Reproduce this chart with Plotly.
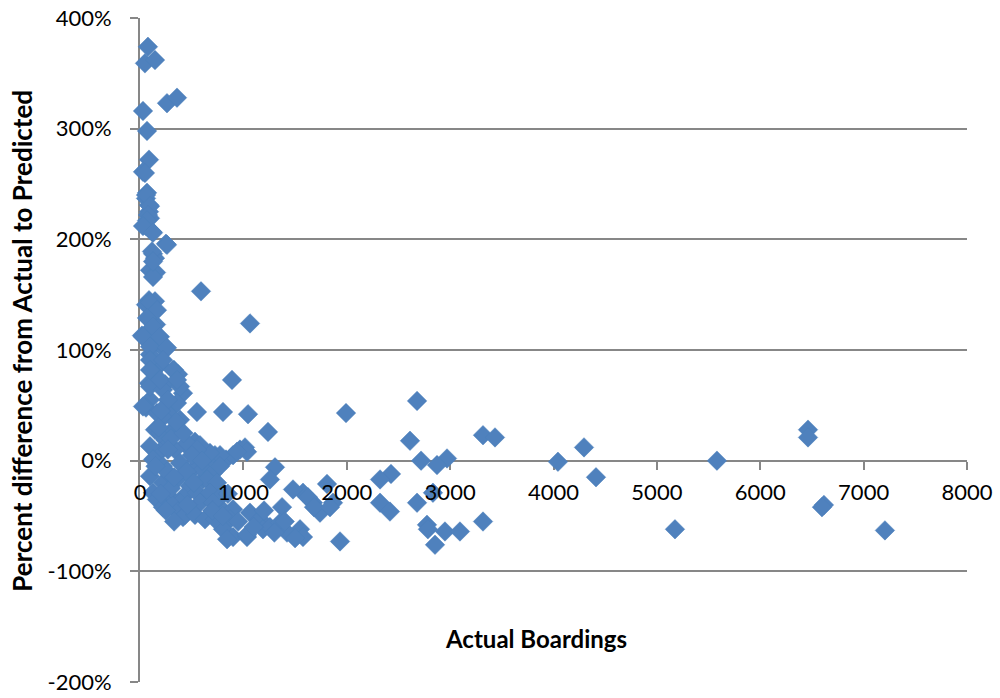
import plotly.graph_objects as go

# Actual boardings (x) and percent difference from actual to predicted (y, in %)
boardings = [
    77, 48, 145, 261, 358, 29, 68, 87, 29, 68, 58, 87, 87, 97, 58, 116, 251, 126, 145, 97,
    155, 590, 87, 145, 58, 97, 155, 1064, 19, 77, 164, 242, 97, 193, 126, 329, 368, 87, 890, 242,
    97, 416, 58, 2680, 1993, 1045, 803, 290, 222, 387, 145, 1238, 6462, 6462, 3318, 3434, 2612, 4295, 967, 1016,
    242, 532, 445, 338, 580, 193, 725, 832, 658, 2970, 2719, 2873, 4043, 5581, 4411, 1306, 1257, 2428, 2322, 1809,
    2834, 2680, 2322, 2418, 2776, 2785, 2950, 3095, 2854, 3318, 1935, 5175, 6616, 6597, 7206, 1577, 1673, 1741, 1867, 1548,
    1577, 1480, 1625, 1683,
    1035, 900, 774, 677, 580, 609, 677, 774, 900, 870, 803, 900, 1035, 1064, 1161, 1190, 1257, 1374, 1354, 1422,
    1838, 842, 1035, 416,
    97, 29, 222, 387, 164, 358, 551, 193, 319, 455, 551, 938, 97, 126, 222, 387, 513, 609, 706, 774,
    97, 222, 358, 484, 648, 745, 126, 290, 416, 551, 677, 774, 164, 222, 387, 580, 706, 309, 368, 435,
    532, 629, 725,
    126, 97, 164, 68, 126, 29, 193, 97, 261, 97, 222, 97, 319, 193, 358,
    48, 58, 97, 77, 68, 29, 126, 261, 116, 126,
    300, 260, 300, 450, 500, 420, 350, 270, 200, 180, 150, 250, 330, 460, 520, 600, 700, 800, 850, 950,
    1100, 1200, 1300, 1500, 1400, 200, 270, 330,
]
pct_diff = [
    374, 359, 362, 323, 328, 316, 298, 272, 261, 242, 237, 231, 225, 219, 212, 207, 196, 187, 183, 172,
    170, 153, 145, 144, 141, 127, 123, 124, 113, 116, 107, 100, 96, 87, 80, 82, 78, 70, 73, 69,
    55, 61, 48, 54, 43, 42, 44, 46, 39, 37, 28, 26, 28, 21, 23, 21, 18, 12, 10, 12,
    19, 17, 14, 10, 8, 8, 5, 1, 2, 2, 0, -4, -1, 0, -15, -6, -17, -12, -17, -21,
    -29, -38, -38, -46, -58, -62, -64, -64, -76, -55, -73, -62, -40, -42, -63, -29, -38, -47, -38, -62,
    -69, -26, -33, -42,
    8, 5, 5, 7, 14, -17, -33, -42, -44, -53, -62, -69, -69, -47, -53, -62, -60, -42, -56, -65,
    -42, -71, -67, -51,
    67, 49, 64, 67, 43, 52, 44, 25, 28, 16, 10, 8, 13, 1, -5, -2, -8, -8, -11, -5,
    -14, -20, -17, -23, -17, -20, -29, -33, -33, -29, -29, -33, -35, -42, -38, -38, -38, -40, -46, -49,
    -49, -53, -53,
    166, 143, 136, 129, 121, 112, 112, 103, 102, 91, 91, 82, 82, 73, 73,
    260, 240, 230, 222, 217, 212, 206, 195, 189, 180,
    20, -10, -25, -10, 5, 25, 35, 55, 45, 30, -5, -45, -55, -40, -20, 0, -45, -50, -30, -55,
    -60, -45, -65, -70, -55, -30, 10, -15,
]

x_ticks = [0, 1000, 2000, 3000, 4000, 5000, 6000, 7000, 8000]
y_ticks = [-200, -100, 0, 100, 200, 300, 400]

grid = "#878787"
font_family = "Lato, 'Liberation Sans', sans-serif"

fig = go.Figure()
fig.add_trace(go.Scatter(
    x=boardings, y=pct_diff, mode="markers",
    marker=dict(symbol="diamond", size=15, color="#4F81BD",
                line=dict(color="#4A7EBB", width=0.5)),
    showlegend=False, cliponaxis=False,
))
# invisible helper trace so the label-only overlay axis is drawn above the markers
fig.add_trace(go.Scatter(
    x=[0], y=[0], xaxis="x2", mode="markers", marker=dict(opacity=0),
    showlegend=False, hoverinfo="skip",
))

axis_common = dict(range=[0, 8000], tickvals=x_ticks, anchor="free", position=1/3,
                   automargin=False, showgrid=False, zeroline=False)

fig.update_layout(
    width=1000, height=698,
    margin=dict(l=140, r=33, t=18, b=16, autoexpand=False),
    paper_bgcolor="white", plot_bgcolor="white",
    font=dict(family=font_family, size=22, color="black"),
    xaxis=dict(
        **axis_common, showticklabels=False,
        showline=True, linecolor=grid, linewidth=2,
        ticks="outside", ticklen=8, tickwidth=2, tickcolor=grid,
        layer="below traces",
    ),
    xaxis2=dict(
        **axis_common, overlaying="x", side="bottom",
        ticktext=[str(v) for v in x_ticks], showticklabels=True,
        showline=False, ticks="outside", ticklen=8, tickcolor="rgba(0,0,0,0)",
        layer="above traces", ticklabelstandoff=4,
    ),
    yaxis=dict(
        range=[-200, 400], tickvals=y_ticks, ticktext=[f"{v}%" for v in y_ticks],
        automargin=False,
        showgrid=True, gridcolor=grid, gridwidth=2, zeroline=False,
        showline=True, linecolor=grid, linewidth=2,
        ticks="outside", ticklen=8, tickwidth=2, tickcolor=grid,
        layer="below traces", ticklabelstandoff=14,
    ),
    annotations=[
        dict(text="<b>Actual Boardings</b>", x=0.479, y=0.066, xref="paper", yref="paper",
             showarrow=False, font=dict(size=24, family=font_family), xanchor="center", yanchor="middle"),
        dict(text="<b>Percent difference from Actual to Predicted</b>", x=-0.1427, y=0.514,
             xref="paper", yref="paper", textangle=-90,
             showarrow=False, font=dict(size=26, family=font_family), xanchor="center", yanchor="middle"),
    ],
)

fig.write_html("out.html", config={"displayModeBar": False},
               post_script="document.body.style.margin='0';")
